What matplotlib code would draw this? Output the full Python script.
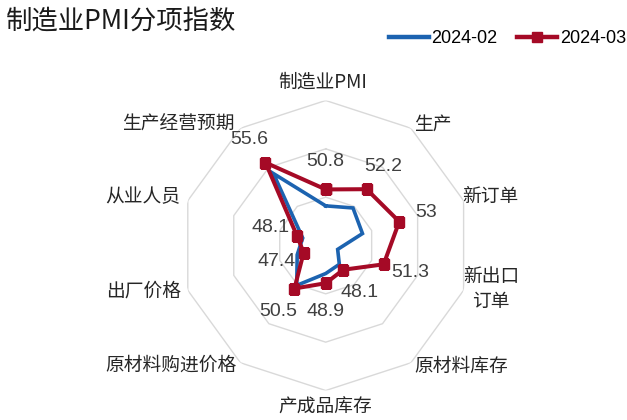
import numpy as np
import matplotlib
matplotlib.use("Agg")
import matplotlib.pyplot as plt
from matplotlib.lines import Line2D

plt.rcParams['font.family'] = ['Noto Sans CJK SC', 'DejaVu Sans']

categories = ["制造业PMI", "生产", "新订单", "新出口\n订单", "原材料库存",
              "产成品库存", "原材料购进价格", "出厂价格", "从业人员", "生产经营预期"]
series_names = ["2024-02", "2024-03"]
feb_values = [49.1, 49.8, 49.0, 46.3, 47.4, 47.9, 50.1, 48.1, 47.5, 54.2]
mar_values = [50.8, 52.2, 53.0, 51.3, 48.1, 48.9, 50.5, 47.4, 48.1, 55.6]
ring_values = [50, 55, 60]
r_min, r_max = 45, 60

W, H = 627, 420
fig = plt.figure(figsize=(W / 100, H / 100), dpi=100)

cx, cy, rad = 325.7, 245.5, 145.0
ax = fig.add_axes([(cx - rad) / W, (H - cy - rad) / H, 2 * rad / W, 2 * rad / H],
                  projection='polar')
ax.set_theta_offset(np.pi / 2)
ax.set_theta_direction(-1)
ax.set_ylim(r_min, r_max)
ax.grid(False)
ax.set_xticks([])
ax.set_yticks([])
ax.spines['polar'].set_visible(False)
ax.patch.set_alpha(0)

n = len(categories)
angles = np.arange(n) * 2 * np.pi / n
closed = np.append(angles, angles[0])

for v in ring_values:
    ax.plot(closed, [v] * (n + 1), color='#d9d9d9', lw=1.0, zorder=1)

blue = '#1c63b0'
red = '#a50a26'
ax.plot(closed, feb_values + feb_values[:1], color=blue, lw=2.6, zorder=3,
        solid_joinstyle='miter')
ax.plot(closed, mar_values + mar_values[:1], color=red, lw=2.9, zorder=4,
        marker='s', markersize=7, solid_joinstyle='miter')

off = 28
for a, v in zip(angles, mar_values):
    txt = f"{v:g}"
    ax.annotate(txt, (a, v), xytext=(off * np.sin(a), off * np.cos(a)),
                textcoords='offset pixels', ha='center', va='center',
                fontsize=14, color='#404040', family='Liberation Sans', zorder=5)

label_pos = [(323, 82), (433, 124), (490, 196), (491, 289), (461, 366),
             (325, 407), (171, 365), (144, 291), (143, 197), (178, 123)]
for lab, (x, y) in zip(categories, label_pos):
    fig.text(x / W, 1 - y / H, lab, ha='center', va='center', fontsize=13.5,
             color='#262626', linespacing=1.25)

fig.text(6 / W, 1 - 21 / H, "制造业PMI分项指数", ha='left', va='center',
         fontsize=19, color='#1a1a1a')

handles = [Line2D([], [], color=blue, lw=3.2),
           Line2D([], [], color=red, lw=3.2, marker='s', markersize=7)]
fig.legend(handles, series_names, loc='center right',
           bbox_to_anchor=(626 / W, 1 - 38.5 / H), ncol=2, frameon=False,
           prop={'family': 'Liberation Sans', 'size': 13},
           handlelength=2.2, handletextpad=0.15, columnspacing=1.1,
           borderpad=0, borderaxespad=0)

fig.savefig("out.png", dpi=100)
